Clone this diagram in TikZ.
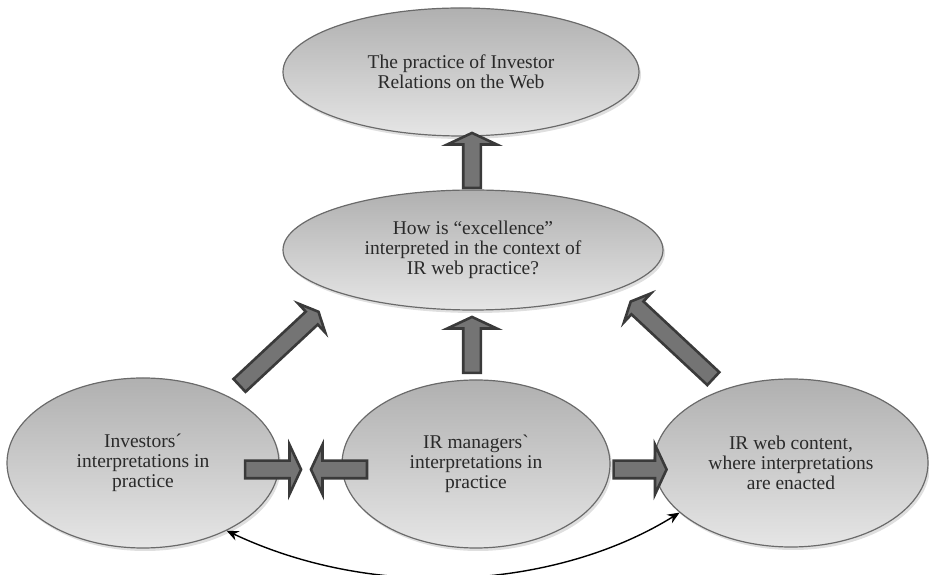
\documentclass[tikz,border=0pt]{standalone}
\usepackage{fontspec}
\setmainfont{Liberation Serif}[Ligatures=TeXOff]
\usetikzlibrary{shapes.geometric,shapes.arrows,shadows,arrows.meta}
\definecolor{rim}{HTML}{6A6A6A}
\definecolor{arrowfill}{HTML}{747474}
\definecolor{arrowrim}{HTML}{3A3A3A}
\definecolor{ink}{HTML}{2A2A2A}
\begin{document}
\begin{tikzpicture}[x=1pt,y=1pt,
    bubble/.style={ellipse, draw=rim, line width=1.2pt, top color=gray!62,
        bottom color=gray!20, text=ink, align=center,
        font=\fontsize{19.5}{20}\selectfont,
        drop shadow={opacity=0.25, shadow xshift=2pt, shadow yshift=-3pt}},
    block/.style={single arrow, draw=arrowrim, fill=arrowfill, line width=2.6pt,
        inner sep=7.5pt, single arrow head extend=16pt,
        single arrow tip angle=130, anchor=center}]
    \useasboundingbox (0,0) rectangle (929,575);

    % ovals
    \node[bubble, minimum width=356, minimum height=128] (practice) at (461,503)
        {The practice of Investor\\Relations on the Web};
    \node[bubble, minimum width=380, minimum height=120] (excellence) at (473,325)
        {How is “excellence”\\interpreted in the context of\\IR web practice?};
    \node[bubble, minimum width=272, minimum height=170] (investors) at (143,112)
        {Investors´\\interpretations in\\practice};
    \node[bubble, minimum width=268, minimum height=168] (managers) at (476,111)
        {IR managers`\\interpretations in\\practice};
    \node[bubble, minimum width=274, minimum height=168] (content) at (791,112)
        {IR web content,\\where interpretations\\are enacted};

    % block arrows
    \node[block, minimum height=55, rotate=90] (up1) at (472,412.5) {};
    \node[block, minimum height=56, rotate=90] (up2) at (472,228) {};
    \node[block, minimum height=56] (right1) at (271,105.5) {};
    \node[block, minimum height=56, rotate=180] (left1) at (341,105.5) {};
    \node[block, minimum height=53] (right2) at (638,105.5) {};
    \node[block, minimum height=108, single arrow head extend=11pt,
        rotate=43] (diag1) at (277.5,225) {};
    \node[block, minimum height=113, single arrow head extend=11pt,
        rotate=137] (diag2) at (673.5,233.5) {};

    % curved link
    \draw[{Stealth[length=12pt,width=10pt]}-{Stealth[length=12pt,width=10pt]},
        line width=1.4pt, black]
        (investors.-39) .. controls (380,-28) and (560,-12) .. (content.-156);

\end{tikzpicture}
\end{document}
